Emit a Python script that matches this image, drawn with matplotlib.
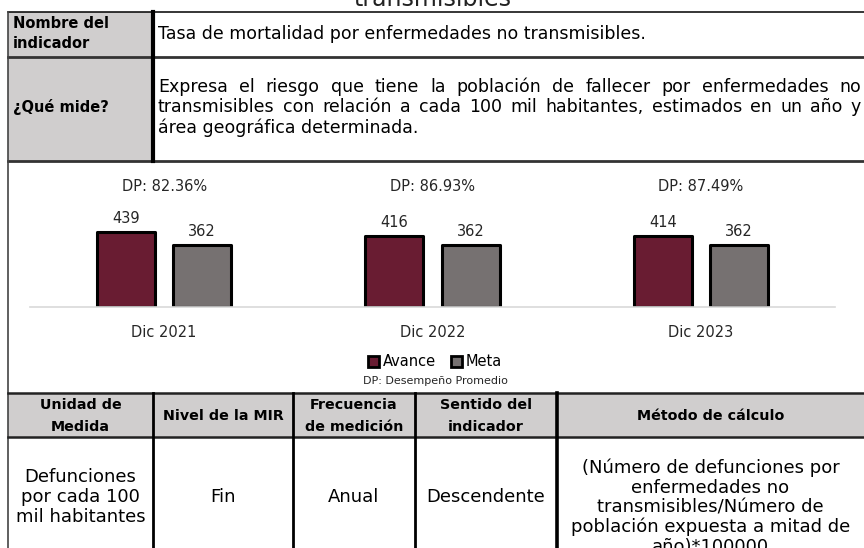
import numpy as np
import matplotlib
matplotlib.use("Agg")
import matplotlib.pyplot as plt
from matplotlib.patches import Rectangle, Patch

plt.rcParams['font.family'] = ['DejaVu Sans']

# chart data
periodos = ["Dic 2021", "Dic 2022", "Dic 2023"]
avance = [439, 416, 414]
meta = [362, 362, 362]
desempeno = ["82.36%", "86.93%", "87.49%"]

# table text
titulo = "transmisibles"
nombre = "Tasa de mortalidad por enfermedades no transmisibles."
que_mide = ["Expresa el riesgo que tiene la población de fallecer por enfermedades no",
            "transmisibles con relación a cada 100 mil habitantes, estimados en un año y",
            "área geográfica determinada."]
encabezados = [["Unidad de", "Medida"], ["Nivel de la MIR"], ["Frecuencia", "de medición"],
               ["Sentido del", "indicador"], ["Método de cálculo"]]
valores = [["Defunciones", "por cada 100", "mil habitantes"], ["Fin"], ["Anual"], ["Descendente"],
           ["(Número de defunciones por", "enfermedades no", "transmisibles/Número de",
            "población expuesta a mitad de", "año)*100000"]]

c_avance = "#691C32"
c_meta = "#767171"
c_gris = "#D0CECE"

W, H = 864, 548
fig = plt.figure(figsize=(W / 100, H / 100), dpi=100)
tab = fig.add_axes([0, 0, 1, 1])
tab.set_xlim(0, W)
tab.set_ylim(H, 0)
tab.axis("off")

# gray fills
tab.add_patch(Rectangle((8, 12), 145, 149, facecolor=c_gris, edgecolor="none"))
tab.add_patch(Rectangle((8, 393), W - 8, 44, facecolor=c_gris, edgecolor="none"))

# lines
tab.plot([8, W], [12, 12], color="black", lw=1.1)
tab.plot([8, W], [57, 57], color="#333333", lw=2)
tab.plot([8, W], [161, 161], color="#333333", lw=2)
tab.plot([153, 153], [12, 161], color="black", lw=3)
tab.plot([8, 8], [12, H], color="#444444", lw=1.2)
tab.plot([8, W], [393, 393], color="#222222", lw=1.8)
tab.plot([8, W], [437, 437], color="#222222", lw=1.8)
col_x = [8, 153, 293, 415, 557, W]
for xv, lw in zip(col_x[1:-1], [2, 2, 2, 2.6]):
    tab.plot([xv, xv], [393, H], color="black", lw=lw)

# title (cut at top)
tab.text(432, 6, titulo, ha="center", va="baseline", fontsize=17, color="#222222")

# top rows
tab.text(13, 23, "Nombre del", fontsize=10.5, fontweight="bold", va="center")
tab.text(13, 43, "indicador", fontsize=10.5, fontweight="bold", va="center")
tab.text(13, 107, "¿Qué mide?", fontsize=10.5, fontweight="bold", va="center")
tab.text(158, 34, nombre, fontsize=12.5, va="center")

renderer = fig.canvas.get_renderer()


def justify(line, x0, x1, y, size):
    texts = [tab.text(0, y, w, fontsize=size, va="center") for w in line.split()]
    widths = [t.get_window_extent(renderer).width for t in texts]
    gap = (x1 - x0 - sum(widths)) / (len(texts) - 1)
    x = x0
    for t, w in zip(texts, widths):
        t.set_x(x)
        x += w + gap


for i, (line, y) in enumerate(zip(que_mide, [87, 107, 128])):
    if i < len(que_mide) - 1:
        justify(line, 158, 861, y, 12.5)
    else:
        tab.text(158, y, line, fontsize=12.5, va="center")

# bottom table
centros = [(a + b) / 2 for a, b in zip(col_x[:-1], col_x[1:])]
for cx, lines in zip(centros, encabezados):
    ys = [405, 427] if len(lines) == 2 else [416]
    for t, y in zip(lines, ys):
        tab.text(cx, y, t, ha="center", va="center", fontsize=10.3, fontweight="bold")
for cx, lines in zip(centros, valores):
    if len(lines) == 1:
        ys = [497]
    elif len(lines) == 3:
        ys = [477, 497, 517]
    else:
        ys = [468 + 19.7 * k for k in range(len(lines))]
    for t, y in zip(lines, ys):
        tab.text(cx, y, t, ha="center", va="center", fontsize=13)

# bar chart
ax = fig.add_axes([30 / W, 1 - 307 / H, 805 / W, 132 / H])
ax.set_facecolor("none")
x = np.arange(len(periodos))
bw, off = 0.216, 0.142
b1 = ax.bar(x - off, avance, bw, color=c_avance, edgecolor="black", lw=2.2, joinstyle="round")
b2 = ax.bar(x + off, meta, bw, color=c_meta, edgecolor="black", lw=2.2, joinstyle="round")
ax.bar_label(b1, padding=4, fontsize=10.5, color="#262626")
ax.bar_label(b2, padding=4, fontsize=10.5, color="#262626")
for i, d in enumerate(desempeno):
    ax.text(i, 0.91, f"DP: {d}", transform=ax.get_xaxis_transform(), ha="center", va="center",
            fontsize=10.5, color="#262626")
ax.set_xlim(-0.5, 2.5)
ax.set_ylim(0, 770)
ax.set_xticks(x, periodos)
ax.set_yticks([])
ax.tick_params(axis="x", length=0, pad=13, labelsize=10.5, labelcolor="#262626")
for s in ["top", "left", "right"]:
    ax.spines[s].set_visible(False)
ax.spines["bottom"].set_color("#D9D9D9")
ax.spines["bottom"].set_linewidth(1.2)

handles = [Patch(facecolor=c_avance, edgecolor="black", lw=2, label="Avance"),
           Patch(facecolor=c_meta, edgecolor="black", lw=2, label="Meta")]
fig.legend(handles=handles, loc="center", bbox_to_anchor=(435 / W, 1 - 362 / H), ncol=2,
           frameon=False, fontsize=10.5, handlelength=0.75, handleheight=0.75,
           handletextpad=0.25, columnspacing=1.0, borderpad=0)
tab.text(435, 381, "DP: Desempeño Promedio", ha="center", va="center", fontsize=8, color="#262626")

fig.savefig("out.png", dpi=100)
